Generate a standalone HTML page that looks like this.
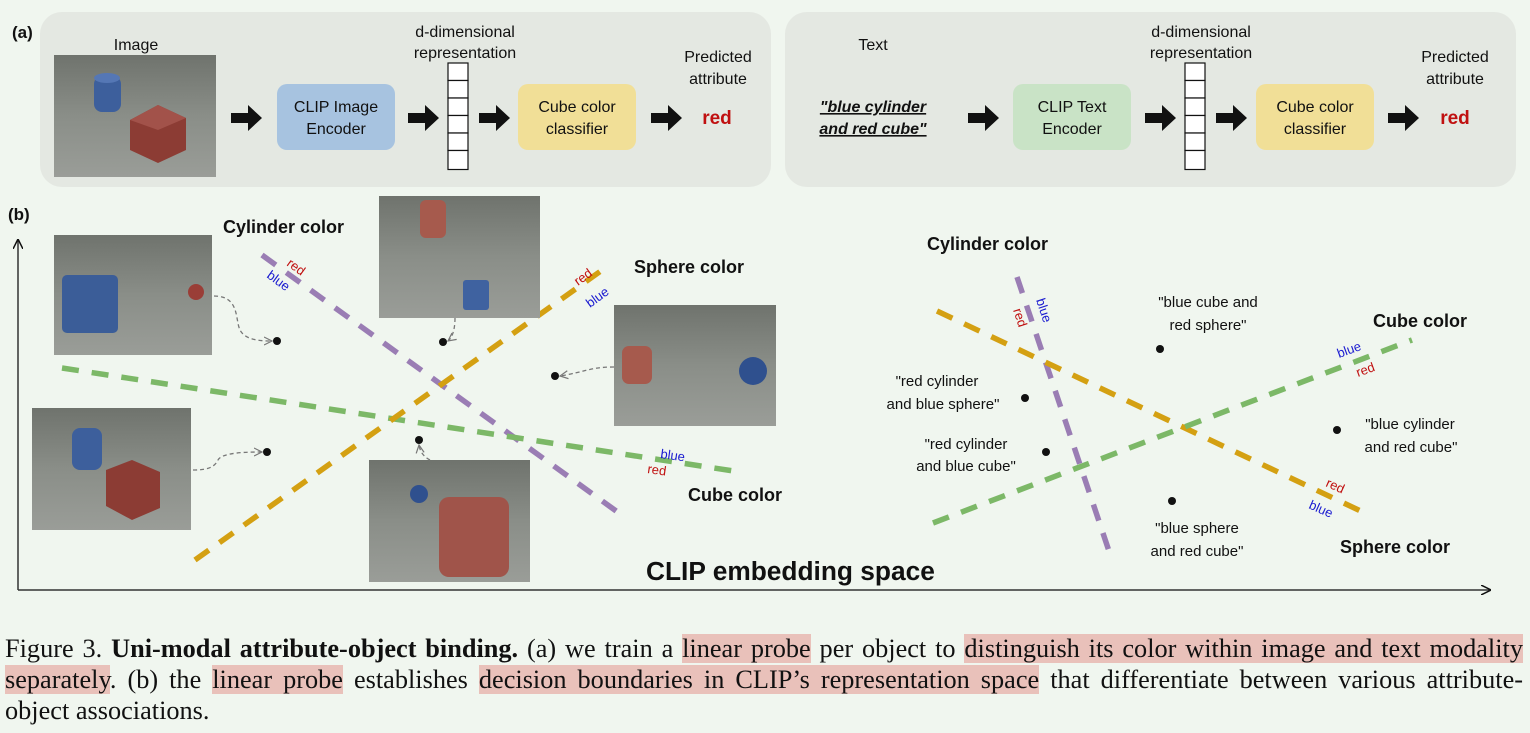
<!DOCTYPE html>
<html><head><meta charset="utf-8"><style>
html,body{margin:0;padding:0;background:#f0f6ef;}
body{width:1530px;height:733px;position:relative;overflow:hidden;font-family:"Liberation Sans",sans-serif;}
svg{position:absolute;left:0;top:0;}
.cap{position:absolute;left:5px;top:633px;width:1518px;font-family:"Liberation Serif",serif;font-size:26.3px;line-height:31px;color:#111;}
.cap div{white-space:nowrap;}
.cap .j{text-align:justify;text-align-last:justify;white-space:normal;}
.h{background:#e9c1ba;}
</style></head><body>
<svg width="1530" height="733" viewBox="0 0 1530 733">
<defs>
<linearGradient id="pg" x1="0" y1="0" x2="0" y2="1"><stop offset="0" stop-color="#6f736d"/><stop offset="0.5" stop-color="#8a8e88"/><stop offset="1" stop-color="#9a9d98"/></linearGradient>
<marker id="ah" markerWidth="10" markerHeight="10" refX="9" refY="5" orient="auto" markerUnits="userSpaceOnUse"><path d="M0,0 L10,5 L0,10" fill="none" stroke="#111" stroke-width="1.5"/></marker>
<marker id="dh" markerWidth="10" markerHeight="10" refX="8" refY="5" orient="auto" markerUnits="userSpaceOnUse"><path d="M0,1 L8,5 L0,9" fill="none" stroke="#777" stroke-width="1.2"/></marker>
</defs>
<rect x="40" y="12" width="731" height="175" rx="22" fill="#e4e8e2"/>
<rect x="785" y="12" width="731" height="175" rx="22" fill="#e4e8e2"/>
<g font-size="16" fill="#111" text-anchor="middle">
<text x="12" y="38" text-anchor="start" font-weight="bold" font-size="17">(a)</text>
<text x="136" y="50">Image</text>
<text x="465" y="37">d-dimensional</text><text x="465" y="58">representation</text>
<text x="718" y="62">Predicted</text><text x="718" y="84">attribute</text>
<text x="873" y="50">Text</text>
<text x="1201" y="37">d-dimensional</text><text x="1201" y="58">representation</text>
<text x="1455" y="62">Predicted</text><text x="1455" y="84">attribute</text>
</g>
<rect x="54" y="55" width="162" height="122" fill="url(#pg)"/>
<rect x="94" y="76" width="27" height="36" rx="8" fill="#3d5f9c"/><ellipse cx="107" cy="78" rx="13" ry="5" fill="#5577b5"/>
<path d="M130,120 L158,105 L186,118 L186,150 L158,163 L130,150 Z" fill="#8c3c34"/><path d="M130,120 L158,105 L186,118 L158,130 Z" fill="#a2524a"/>
<g fill="#111">
<path d="M231,113h17v-8l14,13l-14,13v-8h-17z"/>
<path d="M408,113h17v-8l14,13l-14,13v-8h-17z"/>
<path d="M479,113h17v-8l14,13l-14,13v-8h-17z"/>
<path d="M651,113h17v-8l14,13l-14,13v-8h-17z"/>
<path d="M968,113h17v-8l14,13l-14,13v-8h-17z"/>
<path d="M1145,113h17v-8l14,13l-14,13v-8h-17z"/>
<path d="M1216,113h17v-8l14,13l-14,13v-8h-17z"/>
<path d="M1388,113h17v-8l14,13l-14,13v-8h-17z"/>
</g>
<rect x="277" y="84" width="118" height="66" rx="10" fill="#a7c3e0"/>
<rect x="518" y="84" width="118" height="66" rx="10" fill="#f1df97"/>
<rect x="1013" y="84" width="118" height="66" rx="10" fill="#c9e3c6"/>
<rect x="1256" y="84" width="118" height="66" rx="10" fill="#f1df97"/>
<g font-size="16" fill="#111" text-anchor="middle">
<text x="336" y="112">CLIP Image</text><text x="336" y="134">Encoder</text>
<text x="577" y="112">Cube color</text><text x="577" y="134">classifier</text>
<text x="1072" y="112">CLIP Text</text><text x="1072" y="134">Encoder</text>
<text x="1315" y="112">Cube color</text><text x="1315" y="134">classifier</text>
<text x="717" y="124" fill="#c01010" font-weight="bold" font-size="19">red</text>
<text x="1455" y="124" fill="#c01010" font-weight="bold" font-size="19">red</text>
<text x="873" y="112" font-weight="bold" font-style="italic" text-decoration="underline">"blue cylinder</text>
<text x="873" y="134" font-weight="bold" font-style="italic" text-decoration="underline">and red cube"</text>
</g>
<g fill="#fff" stroke="#111" stroke-width="1.2">
<rect x="448" y="63" width="20" height="17.5"/><rect x="448" y="80.5" width="20" height="17.5"/><rect x="448" y="98" width="20" height="17.5"/><rect x="448" y="115.5" width="20" height="17.5"/><rect x="448" y="133" width="20" height="17.5"/><rect x="448" y="150.5" width="20" height="19"/>
<rect x="1185" y="63" width="20" height="17.5"/><rect x="1185" y="80.5" width="20" height="17.5"/><rect x="1185" y="98" width="20" height="17.5"/><rect x="1185" y="115.5" width="20" height="17.5"/><rect x="1185" y="133" width="20" height="17.5"/><rect x="1185" y="150.5" width="20" height="19"/>
</g>
<text x="8" y="220" font-weight="bold" font-size="17" fill="#111">(b)</text>
<line x1="18" y1="590" x2="18" y2="240" stroke="#333" stroke-width="1.5" marker-end="url(#ah)"/>
<line x1="18" y1="590" x2="1490" y2="590" stroke="#333" stroke-width="1.5" marker-end="url(#ah)"/>
<g stroke-width="5.5" stroke-dasharray="17 13" fill="none">
<line x1="262" y1="255" x2="623" y2="516" stroke="#9a7db4"/>
<line x1="62" y1="368" x2="740" y2="472" stroke="#7cb867"/>
<line x1="195" y1="560" x2="605" y2="268" stroke="#d4a012"/>
<line x1="1017" y1="277" x2="1112" y2="560" stroke="#9a7db4"/>
<line x1="937" y1="311" x2="1367" y2="514" stroke="#d4a012"/>
<line x1="933" y1="523" x2="1412" y2="340" stroke="#7cb867"/>
</g>
<rect x="54" y="235" width="158" height="120" fill="url(#pg)"/>
<rect x="62" y="275" width="56" height="58" rx="5" fill="#3b5d98"/>
<circle cx="196" cy="292" r="8" fill="#9a3e37"/>
<rect x="379" y="196" width="161" height="122" fill="url(#pg)"/>
<rect x="420" y="200" width="26" height="38" rx="6" fill="#a65a4d"/>
<rect x="463" y="280" width="26" height="30" rx="3" fill="#3f62a0"/>
<rect x="614" y="305" width="162" height="121" fill="url(#pg)"/>
<rect x="622" y="346" width="30" height="38" rx="7" fill="#a65a4d"/>
<circle cx="753" cy="371" r="14" fill="#2f508e"/>
<rect x="32" y="408" width="159" height="122" fill="url(#pg)"/>
<rect x="72" y="428" width="30" height="42" rx="8" fill="#3d5f9c"/>
<path d="M106,470 L132,460 L160,472 L160,508 L132,520 L106,506 Z" fill="#8c3c34"/>
<rect x="369" y="460" width="161" height="122" fill="url(#pg)"/>
<circle cx="419" cy="494" r="9" fill="#2f508e"/>
<rect x="439" y="497" width="70" height="80" rx="10" fill="#a0544a"/>
<g stroke="#777" stroke-width="1.3" stroke-dasharray="4 3" fill="none">
<path d="M214,296 C240,296 235,320 240,330 C245,340 260,341 272,341" marker-end="url(#dh)"/>
<path d="M455,318 C455,330 452,338 448,341" marker-end="url(#dh)"/>
<path d="M614,367 C590,367 585,372 560,376" marker-end="url(#dh)"/>
<path d="M193,470 C210,470 215,466 218,460 C222,452 250,452 262,452" marker-end="url(#dh)"/>
<path d="M430,460 C424,457 420,452 419,445" marker-end="url(#dh)"/>
</g>
<g fill="#111">
<circle cx="277" cy="341" r="4"/><circle cx="443" cy="342" r="4"/><circle cx="555" cy="376" r="4"/><circle cx="267" cy="452" r="4"/><circle cx="419" cy="440" r="4"/>
<circle cx="1160" cy="349" r="4"/><circle cx="1025" cy="398" r="4"/><circle cx="1046" cy="452" r="4"/><circle cx="1337" cy="430" r="4"/><circle cx="1172" cy="501" r="4"/>
</g>
<g font-weight="bold" font-size="18" fill="#111">
<text x="223" y="233">Cylinder color</text>
<text x="634" y="273">Sphere color</text>
<text x="688" y="501">Cube color</text>
<text x="646" y="580" font-size="26.3">CLIP embedding space</text>
<text x="927" y="250">Cylinder color</text>
<text x="1373" y="327">Cube color</text>
<text x="1340" y="553">Sphere color</text>
</g>
<g font-size="13">
<text x="286" y="265" fill="#c01010" transform="rotate(36 286 265)">red</text>
<text x="266" y="277" fill="#1a1ad0" transform="rotate(36 266 277)">blue</text>
<text x="578" y="286" fill="#c01010" transform="rotate(-36 578 286)">red</text>
<text x="590" y="308" fill="#1a1ad0" transform="rotate(-36 590 308)">blue</text>
<text x="660" y="458" fill="#1a1ad0" transform="rotate(8 660 458)">blue</text>
<text x="647" y="473" fill="#c01010" transform="rotate(8 647 473)">red</text>
<text x="1036" y="300" fill="#1a1ad0" transform="rotate(72 1036 300)">blue</text>
<text x="1013" y="310" fill="#c01010" transform="rotate(72 1013 310)">red</text>
<text x="1339" y="358" fill="#1a1ad0" transform="rotate(-20 1339 358)">blue</text>
<text x="1358" y="377" fill="#c01010" transform="rotate(-20 1358 377)">red</text>
<text x="1325" y="486" fill="#c01010" transform="rotate(24 1325 486)">red</text>
<text x="1308" y="508" fill="#1a1ad0" transform="rotate(24 1308 508)">blue</text>
</g>
<g font-size="15" fill="#111" text-anchor="middle">
<text x="1208" y="307">"blue cube and</text><text x="1208" y="330">red sphere"</text>
<text x="937" y="386">"red cylinder</text><text x="943" y="409">and blue sphere"</text>
<text x="966" y="449">"red cylinder</text><text x="966" y="471">and blue cube"</text>
<text x="1410" y="429">"blue cylinder</text><text x="1411" y="452">and red cube"</text>
<text x="1197" y="533">"blue sphere</text><text x="1197" y="556">and red cube"</text>
</g>
</svg>
<div class="cap">
<div class="j">Figure 3. <b>Uni-modal attribute-object binding.</b> (a) we train a <span class="h">linear probe</span> per object to <span class="h">distinguish its color within image and text modality</span></div>
<div class="j"><span class="h">separately</span>. (b) the <span class="h">linear probe</span> establishes <span class="h">decision boundaries in CLIP’s representation space</span> that differentiate between various attribute-</div>
<div>object associations.</div>
</div>
</body></html>
